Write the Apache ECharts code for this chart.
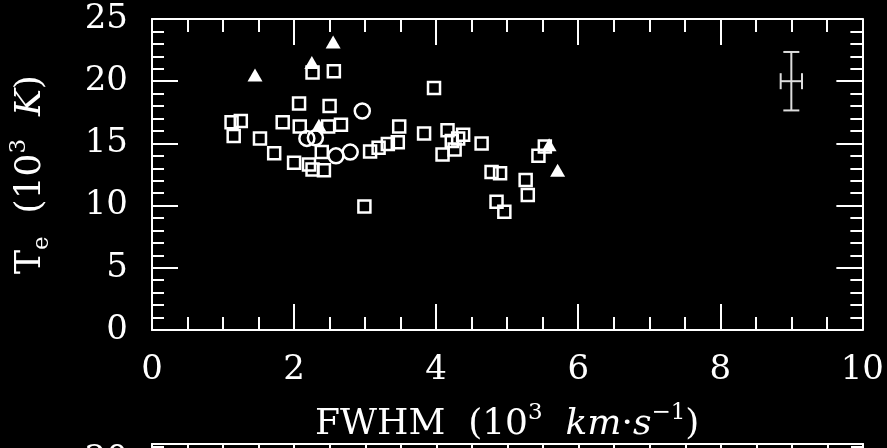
<!DOCTYPE html>
<html>
<head>
<meta charset="utf-8">
<script src="https://cdn.jsdelivr.net/npm/echarts@6/dist/echarts.min.js"></script>
<style>
    html, body { margin: 0; padding: 0; background: #000; }
    #chart { width: 887px; height: 448px; }
</style>
</head>
<body>
<div id="chart"></div>
<script>
// FWHM (10^3 km/s) vs Te (10^3 K)
var squareX = [1.12, 1.25, 1.15, 1.52, 1.84, 1.72, 2.07, 2.00, 2.08, 2.21, 2.26, 2.42, 2.39, 2.26,
    2.56, 2.50, 2.48, 2.66, 2.99, 3.07, 3.19, 3.32, 3.46, 3.48, 3.97, 3.83, 4.16, 4.38, 4.22, 4.31,
    4.26, 4.09, 4.64, 4.78, 4.90, 5.26, 5.29, 4.85, 4.96, 5.44, 5.53];
var squareY = [16.7, 16.8, 15.6, 15.4, 16.7, 14.2, 18.2, 13.45, 16.35, 13.3, 12.9, 12.85, 14.3, 20.7,
    20.8, 18.0, 16.35, 16.5, 9.93, 14.35, 14.65, 14.95, 15.1, 16.35, 19.45, 15.8, 16.05, 15.7, 15.2, 15.4,
    14.5, 14.1, 15.0, 12.7, 12.6, 12.05, 10.85, 10.3, 9.5, 14.0, 14.75];
var circleX = [2.18, 2.30, 2.96, 2.59, 2.79];
var circleY = [15.4, 15.45, 17.6, 14.0, 14.3];
var triangleX = [1.45, 2.25, 2.55, 2.35, 5.59, 5.71];
var triangleY = [20.5, 21.5, 23.15, 16.45, 14.9, 12.85];
// typical error bar: x, y, +-x, +-y
var errBar = [9.0, 20.0, 0.15, 2.35];

var xTicks = [0, 2, 4, 6, 8, 10];
var yTicks = [0, 5, 10, 15, 20, 25];

var SERIF = "DejaVu Serif";

function zip(xs, ys) {
    var out = [];
    for (var i = 0; i < xs.length; i++) {
        out.push([xs[i], ys[i]]);
    }
    return out;
}

function frameAxis(grid, pos, majorLen, minorSplit, minorLen, labels, extra) {
    var isX = pos === "top" || pos === "bottom";
    var ticks = isX ? xTicks : yTicks;
    var ax = {
        gridIndex: grid,
        type: "value",
        position: pos,
        min: ticks[0],
        max: ticks[ticks.length - 1],
        interval: ticks[1] - ticks[0],
        axisLine: {show: true, onZero: false, lineStyle: {color: "#fff", width: 2}},
        axisTick: {show: true, inside: true, length: majorLen, lineStyle: {color: "#fff", width: 2}},
        minorTick: {show: true, splitNumber: minorSplit, length: minorLen, lineStyle: {color: "#fff", width: 2}},
        splitLine: {show: false},
        axisLabel: {
            show: labels,
            color: "#fff",
            fontFamily: SERIF,
            fontSize: 34,
            margin: isX ? 23 : 24
        }
    };
    return Object.assign(ax, extra || {});
}

var supRich = {
    n: {fontFamily: SERIF, fontSize: 36, color: "#fff", lineHeight: 46},
    it: {fontFamily: SERIF, fontStyle: "italic", fontSize: 36, color: "#fff", lineHeight: 46},
    sup: {fontFamily: SERIF, fontSize: 23, color: "#fff", verticalAlign: "top", lineHeight: 30},
    sub: {fontFamily: SERIF, fontSize: 23, color: "#fff", verticalAlign: "bottom", lineHeight: 30}
};

var option = {
    backgroundColor: "#000",
    animation: false,
    grid: [
        {left: 152, top: 19, width: 711, height: 314},
        {left: 152, top: 444, width: 711, height: 314}
    ],
    xAxis: [
        frameAxis(0, "bottom", 26, 4, 13, true, {
            name: "{n|FWHM  (10}{sup|3}{n|  }{it|km}{n|·}{it|s}{sup|−1}{n|)}",
            nameLocation: "middle",
            nameGap: 72,
            nameTextStyle: {rich: supRich}
        }),
        frameAxis(0, "top", 26, 4, 13, false),
        frameAxis(1, "top", 26, 4, 13, false)
    ],
    yAxis: [
        frameAxis(0, "left", 26, 5, 12, true, {
            name: "{n|T}{sub|e}{n|  (10}{sup|3}{n|  }{it|K}{n|)}",
            nameLocation: "middle",
            nameGap: 98,
            nameTextStyle: {rich: supRich}
        }),
        frameAxis(0, "right", 26, 5, 12, false),
        frameAxis(1, "left", 26, 5, 12, true),
        frameAxis(1, "right", 26, 5, 12, false)
    ],
    series: [
        {
            type: "scatter",
            xAxisIndex: 0,
            yAxisIndex: 0,
            symbol: "rect",
            symbolSize: 12,
            itemStyle: {color: "rgba(0,0,0,0)", borderColor: "#fff", borderWidth: 2.5, opacity: 1},
            data: zip(squareX, squareY)
        },
        {
            type: "scatter",
            xAxisIndex: 0,
            yAxisIndex: 0,
            symbol: "circle",
            symbolSize: 15,
            itemStyle: {color: "rgba(0,0,0,0)", borderColor: "#fff", borderWidth: 2.5, opacity: 1},
            data: zip(circleX, circleY)
        },
        {
            type: "scatter",
            xAxisIndex: 0,
            yAxisIndex: 0,
            symbol: "triangle",
            symbolSize: [15, 13],
            itemStyle: {color: "#fff", opacity: 1},
            data: zip(triangleX, triangleY)
        },
        {
            type: "custom",
            xAxisIndex: 0,
            yAxisIndex: 0,
            data: [errBar],
            renderItem: function (params, api) {
                var x = api.value(0), y = api.value(1), ex = api.value(2), ey = api.value(3);
                var top = api.coord([x, y + ey]);
                var bot = api.coord([x, y - ey]);
                var lft = api.coord([x - ex, y]);
                var rgt = api.coord([x + ex, y]);
                var st = {stroke: "#ddd", lineWidth: 2};
                var seg = function (x1, y1, x2, y2) {
                    return {type: "line", shape: {x1: x1, y1: y1, x2: x2, y2: y2}, style: st};
                };
                return {
                    type: "group",
                    children: [
                        seg(top[0], top[1], bot[0], bot[1]),
                        seg(top[0] - 8, top[1], top[0] + 8, top[1]),
                        seg(bot[0] - 8, bot[1], bot[0] + 8, bot[1]),
                        seg(lft[0], lft[1], rgt[0], rgt[1]),
                        seg(lft[0], lft[1] - 8, lft[0], lft[1] + 8),
                        seg(rgt[0], rgt[1] - 8, rgt[0], rgt[1] + 8)
                    ]
                };
            }
        }
    ]
};

var chart = echarts.init(document.getElementById("chart"));
chart.setOption(option);
</script>
</body>
</html>
